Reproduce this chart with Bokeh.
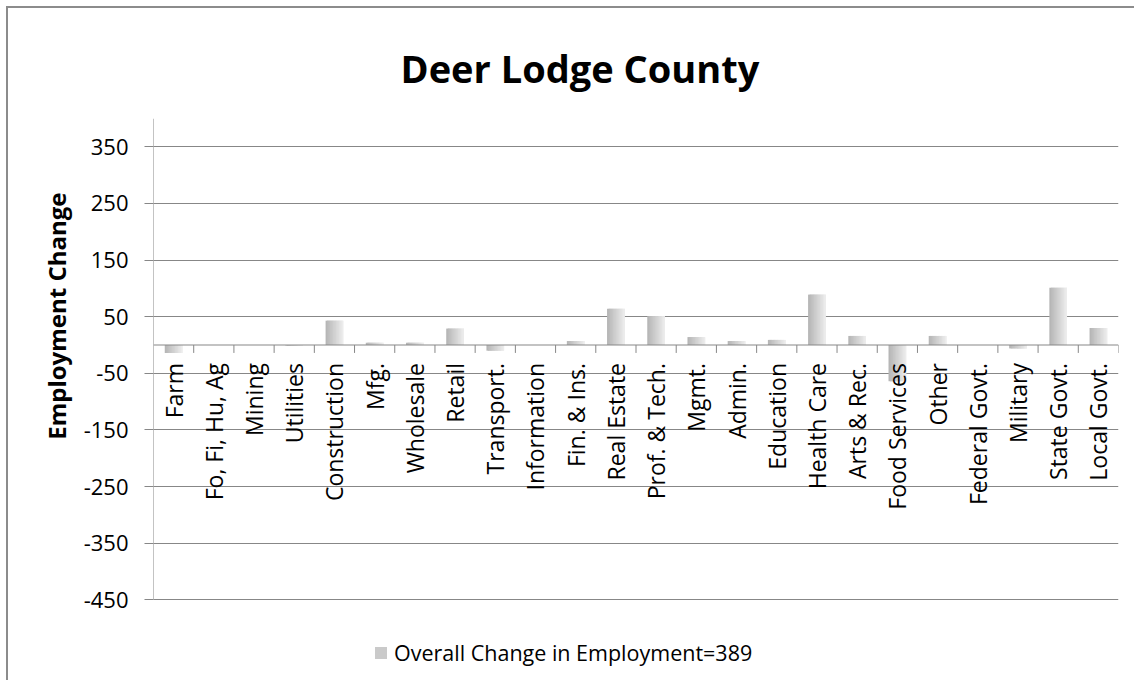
import math
from bokeh.plotting import figure
from bokeh.models import (ColumnDataSource, Range1d, FactorRange, FixedTicker, Span,
                          Title, Legend, LegendItem)
from bokeh.transform import dodge
from bokeh.core.properties import value
from bokeh.embed import file_html
from bokeh.resources import INLINE

# ---------------- data ----------------
categories = ["Farm", "Fo, Fi, Hu, Ag", "Mining", "Utilities", "Construction", "Mfg.",
              "Wholesale", "Retail", "Transport.", "Information", "Fin. & Ins.",
              "Real Estate", "Prof. & Tech.", "Mgmt.", "Admin.", "Education",
              "Health Care", "Arts & Rec.", "Food Services", "Other", "Federal Govt.",
              "Military", "State Govt.", "Local Govt."]
changes = [-14, 0, 0, -1, 43, 4, 4, 29, -10, 0, 7, 64, 51, 14, 7, 9, 89, 16, -64, 16,
           0, -6, 101, 30]
y_ticks = [-450, -350, -250, -150, -50, 50, 150, 250, 350]
y_axis_min, y_axis_max = -450, 400
title_text = "Deer Lodge County"
y_title = "Employment Change"
legend_text = "Overall Change in Employment=389"

# ---------------- style ----------------
FONT = "Open Sans"
GRID = "#878787"
BAR_W = 0.44
N_STRIPS = 12
VIEW_MIN = -596   # frame extends below the axis to hold the legend

src = ColumnDataSource(dict(cat=categories, val=changes, zero=[0] * len(categories)))

p = figure(x_range=FactorRange(factors=categories, range_padding=0),
           y_range=Range1d(VIEW_MIN, y_axis_max),
           width=1128, height=674, output_backend="svg", toolbar_location=None,
           min_border_left=145, min_border_right=18, min_border_top=110,
           min_border_bottom=0, outline_line_color=None,
           background_fill_color="white", border_fill_color="white",
           styles={"margin-left": "8px", "margin-top": "8px",
                   "box-shadow": "-2px -2px 0 0 #8c8c8c"})

p.title = Title(text=title_text, align="left", offset=247, standoff=49,
                text_font=FONT, text_font_size="38px", text_font_style="bold",
                text_color="black")

p.xaxis.visible = False
p.xgrid.visible = False
p.ygrid.ticker = FixedTicker(ticks=y_ticks)
p.ygrid.grid_line_color = GRID
p.ygrid.grid_line_width = 1

ya = p.yaxis[0]
ya.ticker = FixedTicker(ticks=y_ticks)
ya.major_label_overrides = {t: str(t) for t in y_ticks}
ya.axis_line_color = None
ya.major_tick_line_color = GRID
ya.major_tick_out = 9
ya.major_tick_in = 0
ya.minor_tick_line_color = None
ya.major_label_standoff = 16
ya.major_label_text_font = FONT
ya.major_label_text_font_size = "22px"
ya.major_label_text_color = "black"

# vertical axis title as a side-panel title
p.add_layout(Title(text=y_title, align="right", offset=74, standoff=16, text_font=FONT,
                   text_font_size="24px", text_font_style="bold",
                   text_color="black"), "left")

# value axis line (only over the axis span)
p.segment(x0=dodge("cat", -0.5, range=p.x_range), y0="lo",
          x1=dodge("cat", -0.5, range=p.x_range), y1="hi",
          source=ColumnDataSource(dict(cat=categories[:1], lo=[y_axis_min], hi=[y_axis_max])),
          line_color=GRID, line_width=1)

# gradient bars built from overlapping thin strips
renderers = []
c0, c1 = 182, 236
s = BAR_W / N_STRIPS
for i in range(N_STRIPS):
    t = i / (N_STRIPS - 1)
    g = int(round(c0 + (c1 - c0) * t))
    col = "#%02x%02x%02x" % (g, g, g)
    w = s * 2 if i < N_STRIPS - 1 else s
    off = -BAR_W / 2 + i * s + w / 2
    r = p.vbar(x=dodge("cat", off, range=p.x_range), top="val", bottom=0,
               width=w, source=src, fill_color=col, line_color=None)
    renderers.append(r)

# category axis at zero
p.add_layout(Span(location=0, dimension="width", line_color=GRID, line_width=1))
p.segment(x0=dodge("cat", 0.5, range=p.x_range), y0=0,
          x1=dodge("cat", 0.5, range=p.x_range), y1=-14,
          source=src, line_color=GRID, line_width=1)
p.text(x="cat", y="zero", text="cat", source=src, angle=math.pi / 2,
       text_align="right", text_baseline="middle", y_offset=18,
       text_font=value(FONT), text_font_size="23px", text_color="black")

legend = Legend(items=[LegendItem(label=legend_text, renderers=[renderers[N_STRIPS // 3]])],
                location=(220, 15), orientation="horizontal", border_line_color=None,
                background_fill_alpha=0, padding=0, margin=0, glyph_width=15,
                glyph_height=15, label_text_font=FONT, label_text_font_size="21.5px",
                label_text_color="black", label_standoff=6, spacing=0)
p.add_layout(legend, "center")

open("out.html", "w").write(file_html(p, INLINE))
